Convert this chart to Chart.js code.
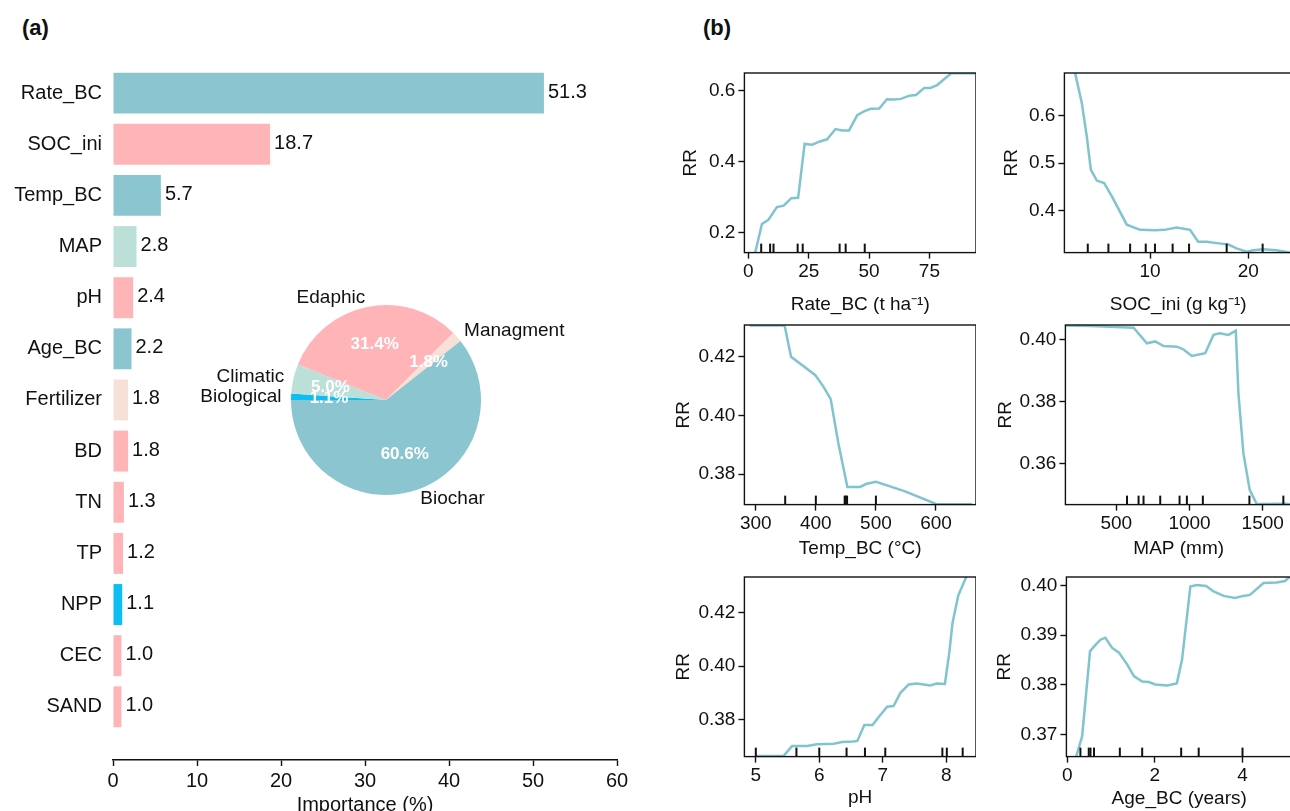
<!DOCTYPE html>
<html>
<head>
<meta charset="utf-8">
<title>Importance and partial dependence</title>
<script src="https://cdn.jsdelivr.net/npm/chart.js@4.4.1/dist/chart.umd.min.js"></script>
<style>
  html, body { margin: 0; padding: 0; background: #fff; overflow: hidden; width: 1290px; height: 811px; }
  .panel { position: absolute; }
  .tag { position: absolute; font: bold 22px 'Liberation Sans', Arial, sans-serif; color: #111; }
</style>
</head>
<body>
<div class="tag" style="left:22px;top:15px">(a)</div>
<div class="tag" style="left:703px;top:15px">(b)</div>
<script>
// (a) relative importance
const features = ['Rate_BC', 'SOC_ini', 'Temp_BC', 'MAP', 'pH', 'Age_BC', 'Fertilizer', 'BD', 'TN', 'TP', 'NPP', 'CEC', 'SAND']
const importance = [51.3, 18.7, 5.7, 2.8, 2.4, 2.2, 1.8, 1.8, 1.3, 1.2, 1.1, 1.0, 1.0]
const featureGroup = ['Biochar', 'Edaphic', 'Biochar', 'Climatic', 'Edaphic', 'Biochar', 'Managment', 'Edaphic', 'Edaphic', 'Edaphic', 'Biological', 'Edaphic', 'Edaphic']
const importanceTicks = [0, 10, 20, 30, 40, 50, 60]

// pie inset (matplotlib order, counter-clockwise from 9 o'clock)
const groups = ['Biochar', 'Managment', 'Edaphic', 'Climatic', 'Biological']
const groupShare = [60.6, 1.8, 31.4, 5.0, 1.1]

// (b) partial dependence curves + deciles (rug)
const rateX = [2.0, 5.6, 8.3, 11.8, 14.6, 17.8, 20.6, 23.3, 26.4, 29.6, 32.6, 36.1, 38.9, 41.7, 45.1, 47.9, 50.7, 54.2, 57.4, 60.4, 63.2, 66.7, 69.4, 72.9, 75.4, 78.2, 84.0, 94.0]
const rateRR = [0.12, 0.224, 0.236, 0.272, 0.276, 0.297, 0.298, 0.450, 0.448, 0.457, 0.463, 0.492, 0.488, 0.488, 0.531, 0.542, 0.549, 0.550, 0.576, 0.575, 0.577, 0.586, 0.588, 0.608, 0.608, 0.616, 0.649, 0.649]
const rateRug = [5.3, 9.0, 10.4, 20.4, 22.5, 37.8, 40.3, 48.2]

const socX = [2.2, 3.05, 3.56, 3.97, 4.58, 5.32, 6.1, 7.63, 8.98, 10.5, 11.5, 12.7, 14.07, 14.9, 15.76, 16.8, 17.97, 18.8, 19.83, 20.5, 21.5, 22.9, 24.2]
const socRR = [0.706, 0.627, 0.556, 0.486, 0.463, 0.458, 0.43, 0.370, 0.359, 0.358, 0.359, 0.364, 0.359, 0.334, 0.334, 0.331, 0.328, 0.320, 0.313, 0.316, 0.318, 0.316, 0.311]
const socRug = [3.66, 5.76, 7.97, 9.56, 10.5, 12.3, 13.97, 17.8, 21.46]

const tempX = [290, 348, 358.8, 398.7, 412.6, 424.8, 437.5, 452.5, 473.6, 484.7, 500.2, 523.5, 548.5, 600, 660]
const tempRR = [0.4306, 0.4306, 0.420, 0.4138, 0.4098, 0.4055, 0.3905, 0.3756, 0.3756, 0.3767, 0.3774, 0.3758, 0.3741, 0.3698, 0.3697]
const tempRug = [349, 400, 448, 450, 452, 500]

const mapX = [152, 323, 618, 709, 766, 823, 914, 959, 1016, 1107, 1164, 1205, 1266, 1316, 1334, 1368, 1411, 1459, 1652, 1700]
const mapRR = [0.4046, 0.4045, 0.4039, 0.3989, 0.3995, 0.398, 0.3978, 0.3969, 0.3948, 0.3957, 0.4016, 0.4021, 0.4016, 0.403, 0.3828, 0.3634, 0.3516, 0.3470, 0.3471, 0.3469]
const mapRug = [573, 652, 686, 800, 932, 982, 1091, 1409, 1641]

const phX = [5.0, 5.44, 5.57, 5.81, 5.96, 6.23, 6.36, 6.54, 6.6, 6.71, 6.84, 6.94, 7.07, 7.17, 7.28, 7.41, 7.54, 7.75, 7.85, 7.98, 8.05, 8.1, 8.19, 8.33]
const phRR = [0.3666, 0.3667, 0.3703, 0.3703, 0.371, 0.3712, 0.3718, 0.372, 0.3722, 0.3781, 0.3781, 0.3812, 0.3849, 0.3852, 0.3901, 0.3932, 0.3935, 0.3928, 0.3935, 0.3934, 0.4052, 0.416, 0.4262, 0.4339]
const phRug = [5.0, 5.64, 6.0, 6.43, 6.72, 7.04, 7.94, 8.01, 8.26]

const ageX = [0.15, 0.34, 0.52, 0.65, 0.76, 0.87, 1.02, 1.18, 1.37, 1.52, 1.71, 1.86, 2.01, 2.28, 2.5, 2.62, 2.81, 2.96, 3.17, 3.34, 3.57, 3.83, 4.02, 4.17, 4.48, 4.78, 4.97, 5.2]
const ageRR = [0.3640, 0.3697, 0.3868, 0.3881, 0.3891, 0.3895, 0.3875, 0.3865, 0.3841, 0.3818, 0.3807, 0.3806, 0.3801, 0.3799, 0.3803, 0.3851, 0.3998, 0.4001, 0.3999, 0.3988, 0.3979, 0.3975, 0.3979, 0.3981, 0.4005, 0.4006, 0.4009, 0.4027]
const ageRug = [0.3, 0.49, 0.53, 0.61, 1.2, 1.71, 2.6, 3.0, 4.0]

const FONT = "'Liberation Sans', Arial, sans-serif"
const groupColor = { Biochar: '#8BC5D0', Edaphic: '#FFB4B8', Climatic: '#BCE0D8', Managment: '#F7E0D6', Biological: '#0DBEF5' }
const lineColor = '#80C4CF'

Chart.defaults.font.family = FONT
Chart.defaults.font.size = 19
Chart.defaults.color = '#111'
Chart.defaults.animation = false
Chart.defaults.plugins.legend.display = false
Chart.defaults.plugins.tooltip.enabled = false

const newCanvas = (left, top, width, height) => {
    const box = document.createElement('div')
    box.className = 'panel'
    box.style.left = left + 'px'
    box.style.top = top + 'px'
    const canvas = document.createElement('canvas')
    canvas.width = width
    canvas.height = height
    canvas.style.width = width + 'px'
    canvas.style.height = height + 'px'
    box.appendChild(canvas)
    document.body.appendChild(box)
    return canvas
}

const tickGrid = { display: true, drawOnChartArea: false, drawTicks: true, tickLength: 6, tickWidth: 1.4, tickColor: '#111' }

// ---------- (a) bars ----------
const valueLabels = {
    id: 'valueLabels',
    afterDatasetsDraw(chart) {
        const { ctx } = chart
        ctx.save()
        ctx.font = `20px ${FONT}`
        ctx.fillStyle = '#111'
        ctx.textBaseline = 'middle'
        ctx.textAlign = 'left'
        chart.getDatasetMeta(0).data.forEach((bar, i) => {
            ctx.fillText(importance[i].toFixed(1), bar.x + 4, bar.y - 1)
        })
        ctx.restore()
    }
}

new Chart(newCanvas(0, 0, 660, 830), {
    type: 'bar',
    data: {
        datasets: [{
            data: importance.map((v, i) => ({ x: v, y: i })),
            backgroundColor: featureGroup.map(g => groupColor[g]),
            barPercentage: 0.8,
            categoryPercentage: 1,
            borderWidth: 0,
        }]
    },
    options: {
        indexAxis: 'y',
        responsive: false,
        layout: { padding: { top: 65, right: 43, bottom: 0, left: 0 } },
        scales: {
            x: {
                type: 'linear', min: 0, max: 60,
                afterBuildTicks: s => { s.ticks = importanceTicks.map(v => ({ value: v })) },
                afterFit: s => { s.height = 70 },
                grid: tickGrid,
                border: { display: true, color: '#111', width: 1.4 },
                ticks: { padding: 3, font: { size: 20 } },
                title: { display: true, text: 'Importance (%)', font: { size: 20 }, padding: { top: 0, bottom: 13 } },
            },
            y: {
                type: 'linear', reverse: true, offset: false, min: -0.55, max: 13.04,
                afterBuildTicks: s => { s.ticks = features.map((f, i) => ({ value: i })) },
                afterFit: s => { s.width = 113 },
                grid: { display: false },
                border: { display: false },
                ticks: { padding: 3, font: { size: 20 }, callback: v => features[v] },
            }
        }
    },
    plugins: [valueLabels]
})

// ---------- pie inset ----------
const pieLabels = {
    id: 'pieLabels',
    afterDatasetsDraw(chart) {
        const { ctx } = chart
        const labels = chart.data.labels
        const values = chart.data.datasets[0].data
        ctx.save()
        ctx.textBaseline = 'middle'
        chart.getDatasetMeta(0).data.forEach((arc, i) => {
            const { x, y, startAngle, endAngle, outerRadius } = arc.getProps(['x', 'y', 'startAngle', 'endAngle', 'outerRadius'], true)
            const mid = (startAngle + endAngle) / 2
            const c = Math.cos(mid)
            const s = Math.sin(mid)
            ctx.font = `19px ${FONT}`
            ctx.fillStyle = '#111'
            ctx.textAlign = c < 0 ? 'right' : 'left'
            ctx.fillText(labels[i], x + c * outerRadius * 1.1, y + s * outerRadius * 1.1)
            ctx.font = `bold 17px ${FONT}`
            ctx.fillStyle = '#fff'
            ctx.textAlign = 'center'
            ctx.fillText(values[i].toFixed(1) + '%', x + c * outerRadius * 0.6, y + s * outerRadius * 0.6)
        })
        ctx.restore()
    }
}

// Chart.js runs clockwise, so the matplotlib order is reversed
const pieGroups = groups.slice().reverse()
new Chart(newCanvas(160, 280, 452, 240), {
    type: 'pie',
    data: {
        labels: pieGroups,
        datasets: [{
            data: groupShare.slice().reverse(),
            backgroundColor: pieGroups.map(g => groupColor[g]),
            borderWidth: 0,
        }]
    },
    options: {
        responsive: false,
        rotation: -90,
        layout: { padding: { left: 131, right: 131, top: 25, bottom: 25 } },
    },
    plugins: [pieLabels]
})

// ---------- (b) partial dependence ----------
const rugFrame = (rug) => ({
    id: 'rugFrame',
    afterDatasetsDraw(chart) {
        const { ctx, chartArea: a, scales: { x } } = chart
        ctx.save()
        ctx.strokeStyle = '#111'
        ctx.lineWidth = 2
        const h = (a.bottom - a.top) * 0.05
        rug.forEach(v => {
            const px = x.getPixelForValue(v)
            ctx.beginPath()
            ctx.moveTo(px, a.bottom)
            ctx.lineTo(px, a.bottom - h)
            ctx.stroke()
        })
        ctx.lineWidth = 1.4
        ctx.strokeRect(a.left, a.top, a.right - a.left, a.bottom - a.top)
        ctx.restore()
    }
})

const pdPanels = [
    { x: rateX, y: rateRR, rug: rateRug, xLim: [-1.66, 94.3], yLim: [0.1435, 0.65], xTicks: [0, 25, 50, 75], yTicks: [0.2, 0.4, 0.6], digits: 1,
      xTitle: 'Rate_BC (t ha⁻¹)', area: [744, 73, 976, 253], rrX: 690, titleY: 305 },
    { x: socX, y: socRR, rug: socRug, xLim: [1.28, 24.45], yLim: [0.311, 0.69], xTicks: [10, 20], yTicks: [0.4, 0.5, 0.6], digits: 1,
      xTitle: 'SOC_ini (g kg⁻¹)', area: [1064, 73, 1292, 253], rrX: 1011, titleY: 305 },
    { x: tempX, y: tempRR, rug: tempRug, xLim: [281.1, 666.6], yLim: [0.3696, 0.4308], xTicks: [300, 400, 500, 600], yTicks: [0.38, 0.40, 0.42], digits: 2,
      xTitle: 'Temp_BC (°C)', area: [744, 325, 976, 505], rrX: 683, titleY: 549 },
    { x: mapX, y: mapRR, rug: mapRug, xLim: [152.3, 1700], yLim: [0.3468, 0.4048], xTicks: [500, 1000, 1500], yTicks: [0.36, 0.38, 0.40], digits: 2,
      xTitle: 'MAP (mm)', area: [1065, 325, 1292, 505], rrX: 1005, titleY: 549 },
    { x: phX, y: phRR, rug: phRug, xLim: [4.82, 8.47], yLim: [0.3664, 0.4331], xTicks: [5, 6, 7, 8], yTicks: [0.38, 0.40, 0.42], digits: 2,
      xTitle: 'pH', area: [744, 577, 976, 757], rrX: 683, titleY: 798 },
    { x: ageX, y: ageRR, rug: ageRug, xLim: [-0.02, 5.13], yLim: [0.3656, 0.4017], xTicks: [0, 2, 4], yTicks: [0.37, 0.38, 0.39, 0.40], digits: 2,
      xTitle: 'Age_BC (years)', area: [1066, 577, 1292, 757], rrX: 1004, titleY: 799 },
]

pdPanels.forEach(p => {
    const [left, top, right, bottom] = p.area
    const half = 19 * 1.2 / 2 + 4
    const boxLeft = p.rrX - half
    const boxTop = top - 20
    const boxBottom = p.titleY + half
    new Chart(newCanvas(boxLeft, boxTop, right - boxLeft, boxBottom - boxTop), {
        type: 'line',
        data: {
            datasets: [{
                data: p.x.map((v, i) => ({ x: v, y: p.y[i] })),
                borderColor: lineColor,
                borderWidth: 2.5,
                pointRadius: 0,
                tension: 0,
                clip: 0,
            }]
        },
        options: {
            responsive: false,
            layout: { padding: { top: 20, right: 0, bottom: 0, left: 0 } },
            scales: {
                x: {
                    type: 'linear', min: p.xLim[0], max: p.xLim[1],
                    afterBuildTicks: s => { s.ticks = p.xTicks.map(v => ({ value: v })) },
                    afterFit: s => { s.height = boxBottom - bottom },
                    grid: tickGrid,
                    border: { display: false },
                    ticks: { padding: 2, callback: v => String(v) },
                    title: { display: true, text: p.xTitle, padding: { top: 0, bottom: 4 } },
                },
                y: {
                    type: 'linear', min: p.yLim[0], max: p.yLim[1],
                    afterBuildTicks: s => { s.ticks = p.yTicks.map(v => ({ value: v })) },
                    afterFit: s => { s.width = left - boxLeft },
                    grid: tickGrid,
                    border: { display: false },
                    ticks: { padding: 3, callback: v => v.toFixed(p.digits) },
                    title: { display: true, text: 'RR', padding: { top: 4, bottom: 0 } },
                }
            }
        },
        plugins: [rugFrame(p.rug)]
    })
})
</script>
</body>
</html>
